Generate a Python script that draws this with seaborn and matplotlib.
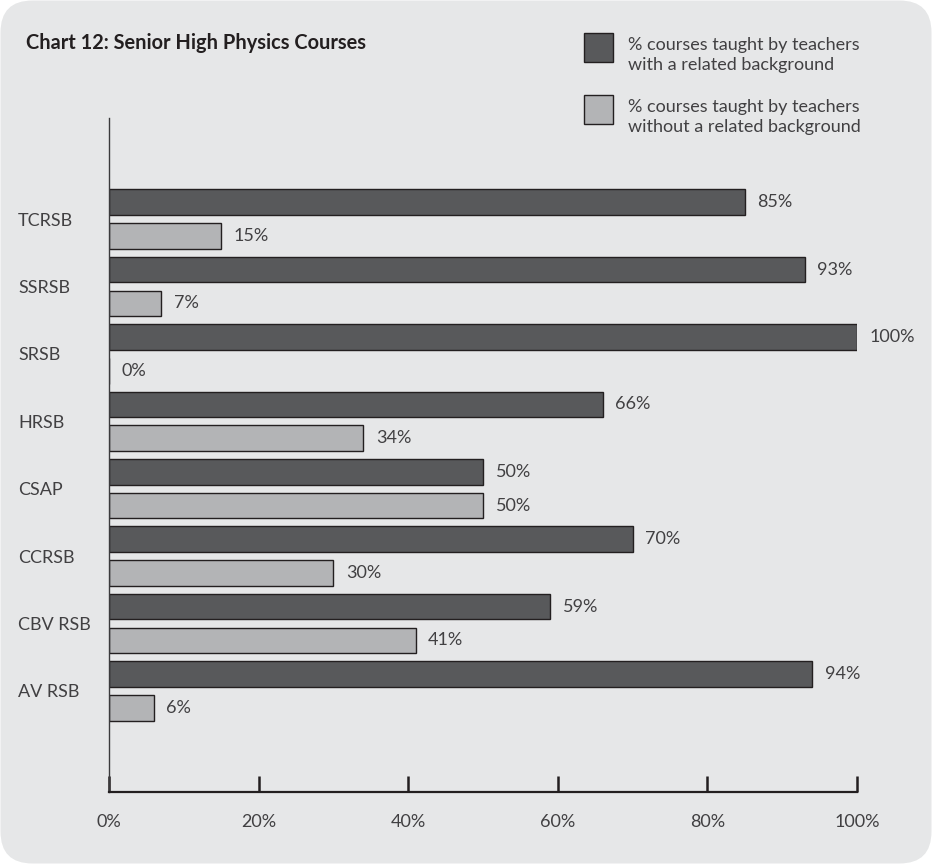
import matplotlib
matplotlib.use("Agg")
import matplotlib.pyplot as plt
from matplotlib.patches import FancyBboxPatch, Rectangle
from matplotlib.transforms import IdentityTransform
import seaborn as sns
import pandas as pd

# Senior high physics courses by regional school board
schools = ["TCRSB", "SSRSB", "SRSB", "HRSB", "CSAP", "CCRSB", "CBV RSB", "AV RSB"]
related = [85, 93, 100, 66, 50, 70, 59, 94]
unrelated = [15, 7, 0, 34, 50, 30, 41, 6]
series_names = [
    "% courses taught by teachers\nwith a related background",
    "% courses taught by teachers\nwithout a related background",
]
x_ticks = [0, 20, 40, 60, 80, 100]
x_tick_labels = ["0%", "20%", "40%", "60%", "80%", "100%"]

DARK = "#58595b"
LIGHT = "#b3b4b6"
EDGE = "#231f20"
PANEL = "#e6e7e8"
TEXT = "#414042"
FS = 13

df = pd.DataFrame({
    "school": schools * 2,
    "pct": related + unrelated,
    "series": [series_names[0]] * len(schools) + [series_names[1]] * len(schools),
})

sns.set_theme(style="white")
plt.rcParams["font.family"] = ["Lato", "DejaVu Sans"]

W, H = 932, 864
fig = plt.figure(figsize=(W / 100, H / 100), dpi=100, facecolor="white")

# rounded grey panel behind everything
panel = FancyBboxPatch((0.5, 0.5), W - 1, H - 1,
                       boxstyle="round,pad=0,rounding_size=32",
                       transform=IdentityTransform(), facecolor=PANEL,
                       edgecolor="none", zorder=-10)
fig.patches.append(panel)

ax = fig.add_axes([109 / W, 72 / H, 748 / W, 674 / H])
ax.set_facecolor("none")

sns.barplot(data=df, y="school", x="pct", hue="series", orient="h",
            palette=[DARK, LIGHT], width=1.0, gap=0.24,
            edgecolor=EDGE, linewidth=1.0, saturation=1.0,
            legend=False, ax=ax)

ax.set_xlim(0, 100)
ax.set_ylim(8.5, -1.5)
ax.set_xlabel("")
ax.set_ylabel("")

# value labels at the end of each bar
for container, vals in zip(ax.containers, [related, unrelated]):
    for bar, v in zip(container, vals):
        y = bar.get_y() + bar.get_height() / 2
        ax.annotate(f"{v}%", xy=(v, y), xytext=(9, 0), textcoords="offset points",
                    ha="left", va="center", fontsize=FS, color=TEXT)

# axes styling
for side in ["top", "right"]:
    ax.spines[side].set_visible(False)
ax.spines["left"].set_color("#3a3a3c")
ax.spines["left"].set_linewidth(1.0)
ax.spines["bottom"].set_color(EDGE)
ax.spines["bottom"].set_linewidth(1.6)

ax.set_xticks(x_ticks)
ax.set_xticklabels(x_tick_labels)
ax.tick_params(axis="x", direction="in", length=11.5, width=1.8, color=EDGE,
               pad=16, labelsize=FS, labelcolor=TEXT, bottom=True)
ax.set_yticks(range(len(schools)))
ax.set_yticklabels(schools)
ax.tick_params(axis="y", length=0, pad=65.5, labelsize=FS, labelcolor=TEXT, left=True)
for lbl in ax.get_yticklabels():
    lbl.set_horizontalalignment("left")
    lbl.set_verticalalignment("center_baseline")

# title
fig.text(26 / W, 1 - 43 / H, "Chart 12: Senior High Physics Courses",
         fontsize=14.4, fontweight="bold", color=EDGE, va="center", ha="left")

# legend swatches and text
for (top, color, name) in [(33, DARK, series_names[0]), (95, LIGHT, series_names[1])]:
    fig.patches.append(Rectangle((584, H - top - 29), 29, 29, transform=IdentityTransform(),
                                 facecolor=color, edgecolor=EDGE, linewidth=1.0))
    fig.text(628 / W, 1 - (top + 22) / H, name, fontsize=FS, color=TEXT,
             va="center", ha="left", linespacing=1.25)

fig.savefig("out.png", dpi=100, facecolor="white")
